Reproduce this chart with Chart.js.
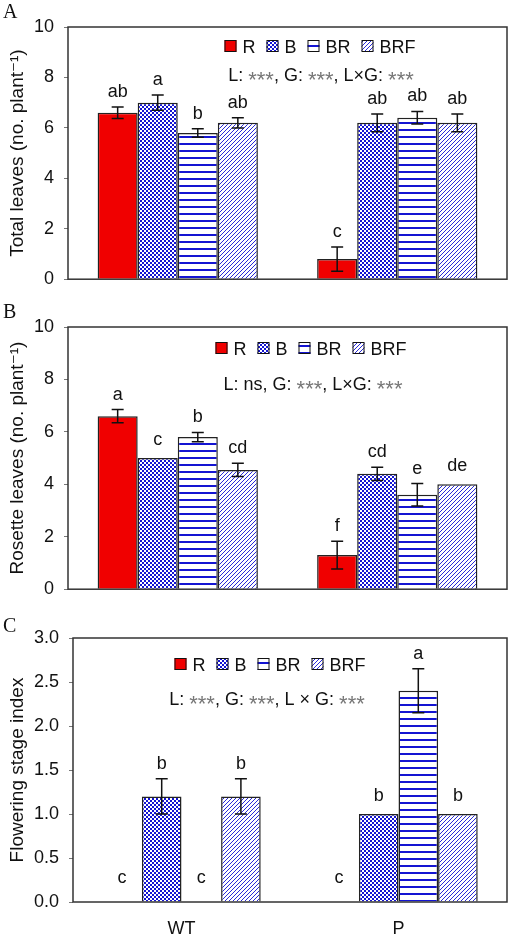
<!DOCTYPE html>
<html><head><meta charset="utf-8">
<script src="https://cdn.jsdelivr.net/npm/chart.js@4.4.0/dist/chart.umd.min.js"></script>
<style>
html,body{margin:0;padding:0;background:#fff;width:510px;height:939px;overflow:hidden}
.panel{position:absolute;left:0;width:510px}
canvas{display:block}
</style></head><body>
<div class="panel" style="top:0;height:300px"><canvas id="cA" width="510" height="300"></canvas></div>
<div class="panel" style="top:300px;height:310px"><canvas id="cB" width="510" height="310"></canvas></div>
<div class="panel" style="top:610px;height:329px"><canvas id="cC" width="510" height="329"></canvas></div>
<script>
// ---------- data ----------
const genotypes = ['WT', 'P'];
const lightLabels = ['R', 'B', 'BR', 'BRF'];

// Panel A: total leaves
const totalR   = [6.6, 0.8];
const totalB   = [7.0, 6.2];
const totalBR  = [5.8, 6.4];
const totalBRF = [6.2, 6.2];
const totalErrR   = [0.23, 0.48];
const totalErrB   = [0.30, 0.35];
const totalErrBR  = [0.17, 0.25];
const totalErrBRF = [0.20, 0.35];
const totalLetR   = ['ab', 'c'];
const totalLetB   = ['a', 'ab'];
const totalLetBR  = ['b', 'ab'];
const totalLetBRF = ['ab', 'ab'];

// Panel B: rosette leaves
const rosR   = [6.6, 1.3];
const rosB   = [5.0, 4.4];
const rosBR  = [5.8, 3.6];
const rosBRF = [4.55, 4.0];
const rosErrR   = [0.25, 0.53];
const rosErrB   = [0, 0.25];
const rosErrBR  = [0.18, 0.43];
const rosErrBRF = [0.25, 0];
const rosLetR   = ['a', 'f'];
const rosLetB   = ['c', 'cd'];
const rosLetBR  = ['b', 'e'];
const rosLetBRF = ['cd', 'de'];

// Panel C: flowering stage index
const flowR   = [0, 0];
const flowB   = [1.2, 1.0];
const flowBR  = [0, 2.4];
const flowBRF = [1.2, 1.0];
const flowErrR   = [0, 0];
const flowErrB   = [0.2, 0];
const flowErrBR  = [0, 0.25];
const flowErrBRF = [0.2, 0];
const flowLetR   = ['c', 'c'];
const flowLetB   = ['b', 'b'];
const flowLetBR  = ['c', 'a'];
const flowLetBRF = ['b', 'b'];

const ticksAB = [0, 2, 4, 6, 8, 10];
const ticksC  = [0, 0.5, 1.0, 1.5, 2.0, 2.5, 3.0];

// ---------- styles ----------
const FONT = "'Liberation Sans', Arial, 'DejaVu Sans', sans-serif";
const SERIF = "'Liberation Serif', 'Times New Roman', serif";
const RED = '#f00000';
const BLUE = '#1414d2';

function tile(w, h, draw) {
  const c = document.createElement('canvas');
  c.width = w; c.height = h;
  const g = c.getContext('2d');
  g.fillStyle = '#fff'; g.fillRect(0, 0, w, h);
  draw(g);
  return document.createElement('canvas').getContext('2d').createPattern(c, 'repeat');
}
const patChecker = tile(4, 4, g => {
  g.fillStyle = BLUE;
  g.fillRect(0, 0, 2, 2); g.fillRect(2, 2, 2, 2);
});
const patHLines = tile(8, 7, g => {
  g.fillStyle = BLUE;
  g.fillRect(0, 3, 8, 2);
});
const patDiag = tile(4, 4, g => {
  g.fillStyle = '#2a2ad8';
  for (let i = 0; i < 4; i++) g.fillRect(i, 3 - i, 1, 1);
});
const fills = [RED, patChecker, patHLines, patDiag];

// ---------- overlay plugin ----------
const overlay = {
  id: 'overlay',
  afterDatasetsDraw(chart, args, o) {
    const ctx = chart.ctx;
    const { left, top, right, bottom } = chart.chartArea;
    const ys = chart.scales.y;
    ctx.save();
    // error bars + letters
    chart.data.datasets.forEach((ds, i) => {
      const meta = chart.getDatasetMeta(i);
      meta.data.forEach((bar, j) => {
        const v = ds.data[j], e = ds.errors[j];
        let ty;
        if (e > 0) {
          const y1 = ys.getPixelForValue(v + e), y2 = ys.getPixelForValue(v - e);
          ctx.strokeStyle = '#111'; ctx.lineWidth = 1.5;
          ctx.beginPath();
          ctx.moveTo(bar.x, y1); ctx.lineTo(bar.x, y2);
          ctx.moveTo(bar.x - 6, y1); ctx.lineTo(bar.x + 6, y1);
          ctx.moveTo(bar.x - 6, y2); ctx.lineTo(bar.x + 6, y2);
          ctx.stroke();
          ty = y1 - 10;
        } else if (v === 0) {
          ty = ys.getPixelForValue(0) - 19;
        } else {
          ty = ys.getPixelForValue(v) - 13;
        }
        ctx.fillStyle = '#111';
        ctx.font = '18px ' + FONT;
        ctx.textAlign = 'center'; ctx.textBaseline = 'alphabetic';
        ctx.fillText(ds.letters[j], bar.x, ty);
      });
    });
    // frame
    ctx.strokeStyle = '#333'; ctx.lineWidth = 1.5;
    ctx.strokeRect(left, top, right - left, bottom - top);
    // legend
    ctx.font = '18px ' + FONT;
    ctx.textAlign = 'left'; ctx.textBaseline = 'alphabetic';
    const items = chart.data.datasets.map(d => ({ label: d.label, fill: d.backgroundColor, w: ctx.measureText(d.label).width }));
    const total = items.reduce((s, it) => s + 12 + 6 + it.w, 0) + 11 * (items.length - 1);
    let x = o.legendX - total / 2;
    items.forEach(it => {
      ctx.fillStyle = it.fill;
      ctx.fillRect(x, o.legendY, 12, 12);
      ctx.strokeStyle = '#111'; ctx.lineWidth = 1;
      ctx.strokeRect(x + 0.5, o.legendY + 0.5, 11, 11);
      ctx.fillStyle = '#111';
      ctx.fillText(it.label, x + 18, o.legendY + 12.5);
      x += 18 + it.w + 11;
    });
    // statistics note
    const parts = o.note.split(/(\*\*\*)/).filter(p => p.length);
    const fNorm = '18px ' + FONT, fStar = '22px ' + FONT;
    let nw = 0;
    parts.forEach(p => { ctx.font = p === '***' ? fStar : fNorm; nw += ctx.measureText(p).width; });
    let nx = o.noteX - nw / 2;
    parts.forEach(p => {
      const star = p === '***';
      ctx.font = star ? fStar : fNorm;
      ctx.fillStyle = star ? '#777' : '#111';
      ctx.fillText(p, nx, o.noteY + (star ? 6 : 0));
      nx += ctx.measureText(p).width;
    });
    // panel letter
    ctx.fillStyle = '#111';
    ctx.font = '20px ' + SERIF;
    ctx.fillText(o.panel, 3, o.panelY);
    ctx.restore();
  }
};

function ds(label, data, errors, letters, i) {
  return { label, data, errors, letters, backgroundColor: fills[i], borderColor: '#222', borderWidth: 1.5, borderSkipped: 'start' };
}

function makeChart(id, datasets, cfg) {
  new Chart(document.getElementById(id), {
    type: 'bar',
    data: { labels: genotypes, datasets },
    plugins: [overlay],
    options: {
      responsive: false, animation: false, devicePixelRatio: 1,
      layout: { padding: { top: cfg.top, right: 3, left: 0, bottom: 0 } },
      datasets: { bar: { categoryPercentage: 0.73, barPercentage: 1.0 } },
      plugins: {
        legend: { display: false }, tooltip: { enabled: false },
        overlay: cfg.overlay
      },
      scales: {
        x: {
          grid: { display: false, drawTicks: false },
          border: { display: false },
          ticks: { display: cfg.showX, color: '#111', font: { family: FONT, size: 18 }, padding: 16 },
          afterFit: s => { s.height = cfg.xHeight; }
        },
        y: {
          min: cfg.ticks[0], max: cfg.ticks[cfg.ticks.length - 1],
          afterBuildTicks: s => { s.ticks = cfg.ticks.map(v => ({ value: v })); },
          grid: { display: true, drawOnChartArea: false, drawTicks: true, tickLength: 4, color: '#777' },
          border: { display: false },
          ticks: { color: '#111', font: { family: FONT, size: 18 }, padding: 10,
                   callback: v => cfg.decimals ? Number(v).toFixed(1) : String(v) },
          title: { display: true, text: cfg.title, color: '#111', font: { family: FONT, size: 19 }, padding: { top: 6, bottom: 0 } },
          afterFit: s => { s.width = cfg.yWidth; }
        }
      }
    }
  });
}

makeChart('cA', [
  ds(lightLabels[0], totalR, totalErrR, totalLetR, 0),
  ds(lightLabels[1], totalB, totalErrB, totalLetB, 1),
  ds(lightLabels[2], totalBR, totalErrBR, totalLetBR, 2),
  ds(lightLabels[3], totalBRF, totalErrBRF, totalLetBRF, 3)
], { top: 27, xHeight: 10, yWidth: 68, showX: false, ticks: ticksAB, decimals: false,
     title: 'Total leaves (no. plant\u207B\u00B9)',
     overlay: { panel: 'A', panelY: 18, legendX: 320, legendY: 40, note: 'L: ***, G: ***, L\u00D7G: ***', noteX: 321, noteY: 81 } });

makeChart('cB', [
  ds(lightLabels[0], rosR, rosErrR, rosLetR, 0),
  ds(lightLabels[1], rosB, rosErrB, rosLetB, 1),
  ds(lightLabels[2], rosBR, rosErrBR, rosLetBR, 2),
  ds(lightLabels[3], rosBRF, rosErrBRF, rosLetBRF, 3)
], { top: 27, xHeight: 19, yWidth: 68, showX: false, ticks: ticksAB, decimals: false,
     title: 'Rosette leaves (no. plant\u207B\u00B9)',
     overlay: { panel: 'B', panelY: 18, legendX: 311, legendY: 42, note: 'L: ns, G: ***, L\u00D7G: ***', noteX: 313, noteY: 90 } });

makeChart('cC', [
  ds(lightLabels[0], flowR, flowErrR, flowLetR, 0),
  ds(lightLabels[1], flowB, flowErrB, flowLetB, 1),
  ds(lightLabels[2], flowBR, flowErrBR, flowLetBR, 2),
  ds(lightLabels[3], flowBRF, flowErrBRF, flowLetBRF, 3)
], { top: 28, xHeight: 37, yWidth: 73, showX: true, ticks: ticksC, decimals: true,
     title: 'Flowering stage index',
     overlay: { panel: 'C', panelY: 22, legendX: 270, legendY: 48, note: 'L: ***, G: ***, L \u00D7 G: ***', noteX: 267, noteY: 95 } });
</script>
</body></html>
